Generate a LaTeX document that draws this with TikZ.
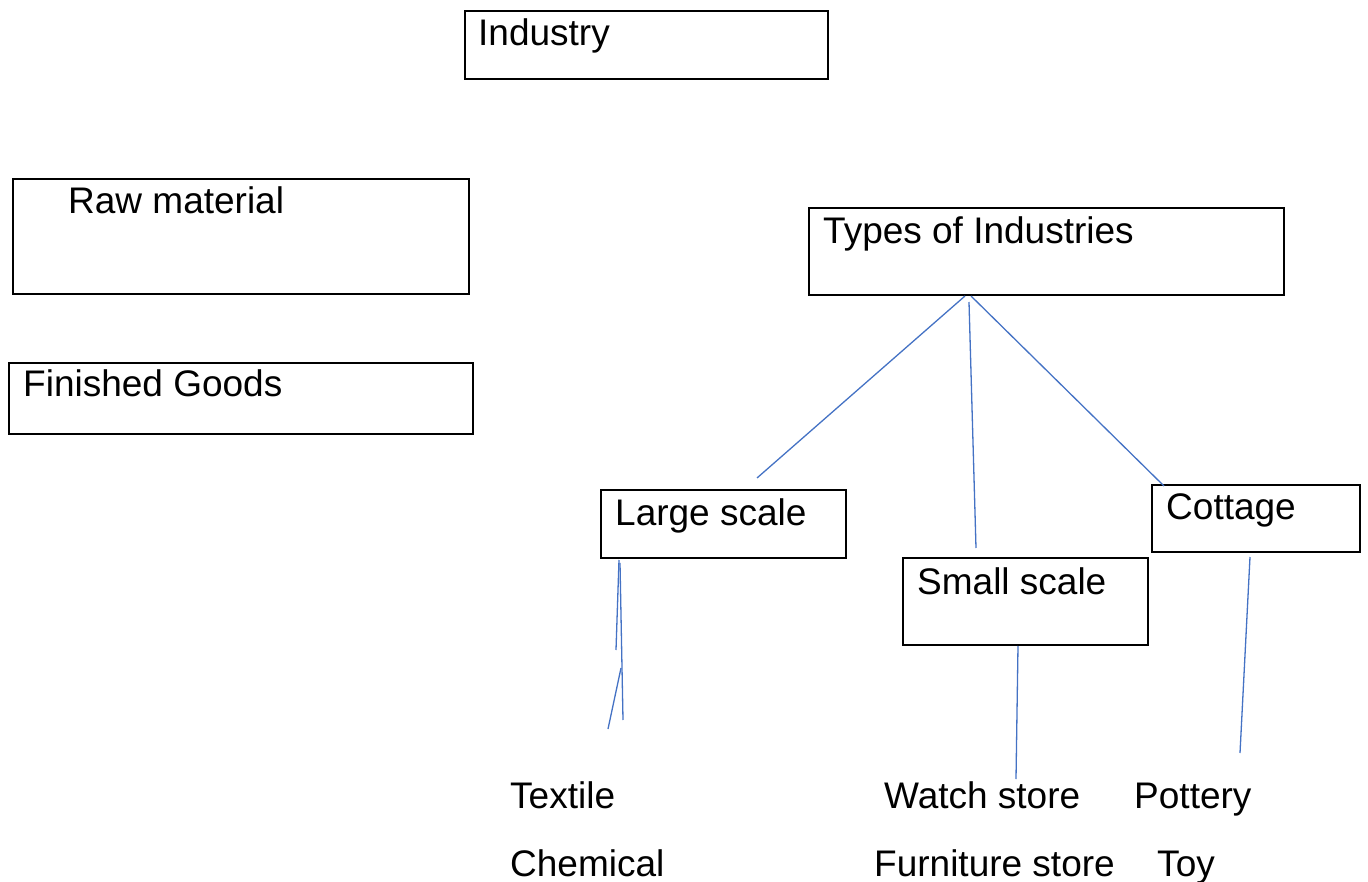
\documentclass[tikz,border=0pt]{standalone}
\usepackage{fontspec}
\setmainfont{Liberation Sans}
\definecolor{conn}{HTML}{4472C4}
\begin{document}
\begin{tikzpicture}[x=1pt,y=-1pt,
  box/.style={draw=black,line width=2pt,anchor=north west,inner sep=0pt},
  txt/.style={anchor=base west,inner sep=0pt,font=\fontsize{37}{44}\selectfont},
  conn/.style={draw=conn,line width=1.3pt}]
\useasboundingbox (0,0) rectangle (1368,882);
% boxes
\node[box,minimum width=363pt,minimum height=68pt] (industry) at (464,10) {};
\node[box,minimum width=456pt,minimum height=115pt] (raw) at (12,178) {};
\node[box,minimum width=464pt,minimum height=71pt] (finished) at (8,362) {};
\node[box,minimum width=475pt,minimum height=87pt] (types) at (808,207) {};
\node[box,minimum width=245pt,minimum height=68pt] (large) at (600,489) {};
\node[box,minimum width=245pt,minimum height=87pt] (small) at (902,557) {};
\node[box,minimum width=208pt,minimum height=67pt] (cottage) at (1151,484) {};
% box texts
\node[txt] (tindustry) at (478,46) {Industry};
\node[txt] (traw) at (68,214) {Raw material};
\node[txt] (tfinished) at (23,397) {Finished Goods};
\node[txt] (ttypes) at (823,244) {Types of Industries};
\node[txt] (tlarge) at (615,525) {Large scale};
\node[txt] (tsmall) at (917,594) {Small scale};
\node[txt] (tcottage) at (1166,519) {Cottage};
% examples
\node[txt] (textile) at (510,808) {Textile};
\node[txt] (chemical) at (510,876) {Chemical};
\node[txt] (watch) at (884,808) {Watch store};
\node[txt] (furniture) at (874,876) {Furniture store};
\node[txt] (pottery) at (1134,808) {Pottery};
\node[txt] (toy) at (1157,876) {Toy};
% connector endpoints
\coordinate (tA) at (965,296);
\coordinate (tB) at (969,302);
\coordinate (tC) at (971,296);
\coordinate (lA) at (757,478);
\coordinate (sA) at (976,548);
\coordinate (cA) at (1164,486);
\coordinate (sB) at (1018,646);
\coordinate (wA) at (1016,779);
\coordinate (cB) at (1250,557);
\coordinate (pA) at (1240,753);
\coordinate (g1) at (619,560);
\coordinate (g2) at (616,650);
\coordinate (g3) at (620,563);
\coordinate (g4) at (623,720);
\coordinate (g5) at (621,668);
\coordinate (g6) at (608,729);
% connectors
\draw[conn] (tA) -- (lA);
\draw[conn] (tB) -- (sA);
\draw[conn] (tC) -- (cA);
\draw[conn] (sB) -- (wA);
\draw[conn] (cB) -- (pA);
\draw[conn] (g1) -- (g2);
\draw[conn] (g3) -- (g4);
\draw[conn] (g5) -- (g6);
\end{tikzpicture}
\end{document}
